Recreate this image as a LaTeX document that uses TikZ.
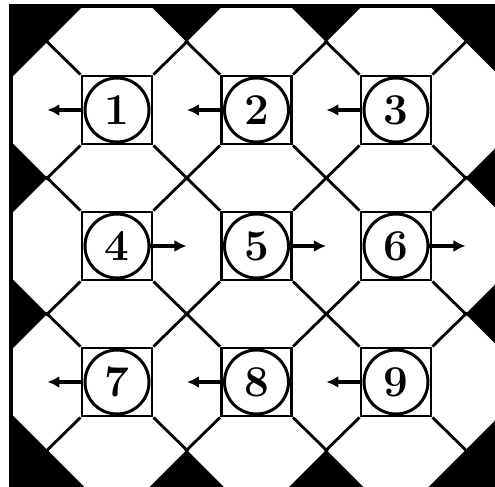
\documentclass[tikz,border=0pt]{standalone}
\usepackage{tikz}
\usetikzlibrary{arrows.meta,positioning}

\tikzset{
  cell/.style={draw,line width=1.4pt,minimum width=35pt,minimum height=34pt,inner sep=0pt},
  num/.style={circle,draw,line width=1.5pt,minimum size=32pt,inner sep=0pt,font=\fontsize{22}{26}\selectfont\bfseries},
  pointer/.style={-{Latex[length=6pt,width=6pt]},line width=1.8pt},
  tile/.style={line width=1.4pt}
}

\begin{document}
\begin{tikzpicture}[x=0.5pt,y=-0.5pt]
\useasboundingbox (0,0) rectangle (495,487);
\fill (11,6) -- (83.25,6) -- (11,78.25) -- cycle;
\fill (150.75,6) -- (186.75,42) -- (222.75,6) -- cycle;
\fill (290.25,6) -- (326.25,42) -- (362.25,6) -- cycle;
\fill (429.75,6) -- (465.75,42) -- (495,71.25) -- (495,6) -- cycle;
\fill (11,141.75) -- (47.25,178) -- (11,214.25) -- cycle;
\fill (11,277.75) -- (47.25,314) -- (11,350.25) -- cycle;
\fill (495,148.75) -- (465.75,178) -- (495,207.25) -- cycle;
\fill (495,284.75) -- (465.75,314) -- (495,343.25) -- cycle;
\fill (11,413.75) -- (47.25,450) -- (84.25,487) -- (11,487) -- cycle;
\fill (149.75,487) -- (186.75,450) -- (223.75,487) -- cycle;
\fill (289.25,487) -- (326.25,450) -- (363.25,487) -- cycle;
\fill (428.75,487) -- (465.75,450) -- (495,420.75) -- (495,487) -- cycle;

\node[cell] (s1) at (117,110) {};
\node[cell] (s2) at (256.5,110) {};
\node[cell] (s3) at (396,110) {};
\node[cell] (s4) at (117,246) {};
\node[cell] (s5) at (256.5,246) {};
\node[cell] (s6) at (396,246) {};
\node[cell] (s7) at (117,382) {};
\node[cell] (s8) at (256.5,382) {};
\node[cell] (s9) at (396,382) {};
\foreach \i in {1,...,9}{
  \draw[tile] (s\i.north west) -- ++(-34.75,-34)
              (s\i.north east) -- ++(34.75,-34)
              (s\i.south west) -- ++(-34.75,34)
              (s\i.south east) -- ++(34.75,34);
  \node[num] (n\i) at (s\i) {\i};
}

\coordinate[left=18pt of n1] (t1);
\coordinate[left=18pt of n2] (t2);
\coordinate[left=18pt of n3] (t3);
\coordinate[right=18pt of n4] (t4);
\coordinate[right=18pt of n5] (t5);
\coordinate[right=18pt of n6] (t6);
\coordinate[left=18pt of n7] (t7);
\coordinate[left=18pt of n8] (t8);
\coordinate[left=18pt of n9] (t9);
\foreach \i in {1,...,9}
  \draw[pointer] (n\i) -- (t\i);

\draw[line width=1.8pt] (11,487) -- (11,6) -- (495,6);
\end{tikzpicture}
\end{document}
